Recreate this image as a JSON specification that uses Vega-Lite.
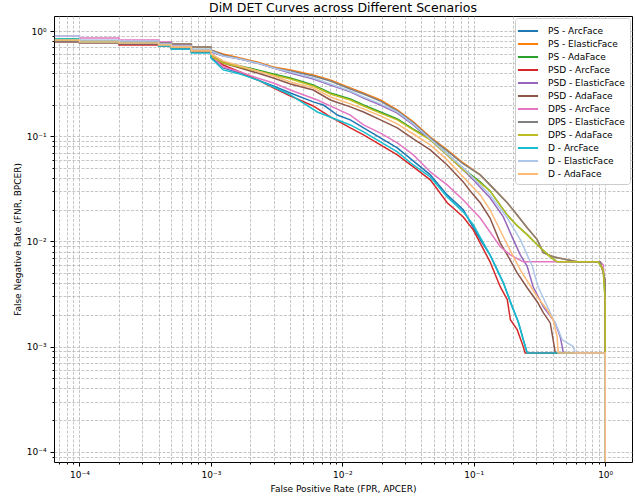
{
"$schema": "https://vega.github.io/schema/vega-lite/v6.json",
"width": 578, "height": 446,
"autosize": {"type": "none"},
"padding": {"left": 54, "top": 16, "right": 3, "bottom": 36},
"background": "white",
"config": {
  "font": "DejaVu Sans",
  "view": {"stroke": "black", "strokeWidth": 1},
  "title": {"fontSize": 12.5, "fontWeight": "normal", "color": "black", "offset": 2, "font": "DejaVu Sans"},
  "axis": {"labelFont": "DejaVu Sans", "titleFont": "DejaVu Sans", "labelFontSize": 9, "titleFontSize": 9, "titleFontWeight": "normal", "labelColor": "black", "titleColor": "black", "tickColor": "black", "domain": false, "gridColor": "#b0b0b0", "gridDash": [3, 1.5], "gridWidth": 0.8, "gridOpacity": 0.9, "labelFlush": false, "labelOverlap": false, "labelBound": false}
},
"title": "DiM DET Curves across Different Scenarios",
"data": {"values": [
{"s":"PS - ArcFace","x":6.5e-5,"y":0.804},{"s":"PS - ArcFace","x":1e-4,"y":0.804},{"s":"PS - ArcFace","x":1e-4,"y":0.786},{"s":"PS - ArcFace","x":2e-4,"y":0.786},{"s":"PS - ArcFace","x":2e-4,"y":0.753},{"s":"PS - ArcFace","x":4e-4,"y":0.753},{"s":"PS - ArcFace","x":4e-4,"y":0.721},{"s":"PS - ArcFace","x":5e-4,"y":0.721},{"s":"PS - ArcFace","x":5e-4,"y":0.675},{"s":"PS - ArcFace","x":7.1e-4,"y":0.675},{"s":"PS - ArcFace","x":7.1e-4,"y":0.632},{"s":"PS - ArcFace","x":1e-3,"y":0.632},{"s":"PS - ArcFace","x":1e-3,"y":0.567},{"s":"PS - ArcFace","x":1.24e-3,"y":0.446},{"s":"PS - ArcFace","x":1.67e-3,"y":0.399},{"s":"PS - ArcFace","x":2.26e-3,"y":0.343},{"s":"PS - ArcFace","x":2.99e-3,"y":0.300},{"s":"PS - ArcFace","x":4.03e-3,"y":0.258},{"s":"PS - ArcFace","x":6.01e-3,"y":0.212},{"s":"PS - ArcFace","x":7.17e-3,"y":0.198},{"s":"PS - ArcFace","x":8.11e-3,"y":0.178},{"s":"PS - ArcFace","x":9.16e-3,"y":0.159},{"s":"PS - ArcFace","x":0.0115,"y":0.143},{"s":"PS - ArcFace","x":0.0145,"y":0.120},{"s":"PS - ArcFace","x":0.0262,"y":0.0774},{"s":"PS - ArcFace","x":0.0467,"y":0.0429},{"s":"PS - ArcFace","x":0.0628,"y":0.0277},{"s":"PS - ArcFace","x":0.0832,"y":0.0200},{"s":"PS - ArcFace","x":0.112,"y":0.0104},{"s":"PS - ArcFace","x":0.133,"y":0.00746},{"s":"PS - ArcFace","x":0.168,"y":0.00404},{"s":"PS - ArcFace","x":0.196,"y":0.0024},{"s":"PS - ArcFace","x":0.218,"y":0.00172},{"s":"PS - ArcFace","x":0.255,"y":0.00087},{"s":"PS - ArcFace","x":1,"y":0.00087},{"s":"PS - ArcFace","x":1,"y":5e-5},
{"s":"PS - ElasticFace","x":6.5e-5,"y":0.804},{"s":"PS - ElasticFace","x":2e-4,"y":0.804},{"s":"PS - ElasticFace","x":2e-4,"y":0.786},{"s":"PS - ElasticFace","x":4e-4,"y":0.786},{"s":"PS - ElasticFace","x":4e-4,"y":0.769},{"s":"PS - ElasticFace","x":5e-4,"y":0.769},{"s":"PS - ElasticFace","x":5e-4,"y":0.753},{"s":"PS - ElasticFace","x":7.1e-4,"y":0.753},{"s":"PS - ElasticFace","x":7.1e-4,"y":0.705},{"s":"PS - ElasticFace","x":1e-3,"y":0.705},{"s":"PS - ElasticFace","x":1e-3,"y":0.661},{"s":"PS - ElasticFace","x":1.24e-3,"y":0.605},{"s":"PS - ElasticFace","x":1.67e-3,"y":0.555},{"s":"PS - ElasticFace","x":2.26e-3,"y":0.508},{"s":"PS - ElasticFace","x":2.99e-3,"y":0.455},{"s":"PS - ElasticFace","x":4.03e-3,"y":0.427},{"s":"PS - ElasticFace","x":6.01e-3,"y":0.382},{"s":"PS - ElasticFace","x":8.11e-3,"y":0.343},{"s":"PS - ElasticFace","x":0.0115,"y":0.288},{"s":"PS - ElasticFace","x":0.0145,"y":0.258},{"s":"PS - ElasticFace","x":0.0195,"y":0.221},{"s":"PS - ElasticFace","x":0.0262,"y":0.178},{"s":"PS - ElasticFace","x":0.0347,"y":0.137},{"s":"PS - ElasticFace","x":0.0467,"y":0.0984},{"s":"PS - ElasticFace","x":0.0628,"y":0.0741},{"s":"PS - ElasticFace","x":0.0832,"y":0.0557},{"s":"PS - ElasticFace","x":0.112,"y":0.0429},{"s":"PS - ElasticFace","x":0.133,"y":0.0345},{"s":"PS - ElasticFace","x":0.180,"y":0.0233},{"s":"PS - ElasticFace","x":0.214,"y":0.0178},{"s":"PS - ElasticFace","x":0.255,"y":0.0135},{"s":"PS - ElasticFace","x":0.304,"y":0.0104},{"s":"PS - ElasticFace","x":0.338,"y":0.0078},{"s":"PS - ElasticFace","x":0.402,"y":0.00714},{"s":"PS - ElasticFace","x":0.514,"y":0.00668},{"s":"PS - ElasticFace","x":0.612,"y":0.0064},{"s":"PS - ElasticFace","x":0.916,"y":0.0064},{"s":"PS - ElasticFace","x":1,"y":0.00432},{"s":"PS - ElasticFace","x":1,"y":5e-5},
{"s":"PS - AdaFace","x":6.5e-5,"y":0.839},{"s":"PS - AdaFace","x":1e-4,"y":0.839},{"s":"PS - AdaFace","x":1e-4,"y":0.804},{"s":"PS - AdaFace","x":2e-4,"y":0.804},{"s":"PS - AdaFace","x":2e-4,"y":0.769},{"s":"PS - AdaFace","x":4e-4,"y":0.769},{"s":"PS - AdaFace","x":4e-4,"y":0.736},{"s":"PS - AdaFace","x":5e-4,"y":0.736},{"s":"PS - AdaFace","x":5e-4,"y":0.705},{"s":"PS - AdaFace","x":7.1e-4,"y":0.705},{"s":"PS - AdaFace","x":7.1e-4,"y":0.661},{"s":"PS - AdaFace","x":1e-3,"y":0.661},{"s":"PS - AdaFace","x":1e-3,"y":0.592},{"s":"PS - AdaFace","x":1.24e-3,"y":0.508},{"s":"PS - AdaFace","x":1.67e-3,"y":0.465},{"s":"PS - AdaFace","x":2.26e-3,"y":0.427},{"s":"PS - AdaFace","x":2.99e-3,"y":0.391},{"s":"PS - AdaFace","x":4.03e-3,"y":0.358},{"s":"PS - AdaFace","x":6.01e-3,"y":0.307},{"s":"PS - AdaFace","x":8.11e-3,"y":0.258},{"s":"PS - AdaFace","x":0.0115,"y":0.226},{"s":"PS - AdaFace","x":0.0145,"y":0.198},{"s":"PS - AdaFace","x":0.0195,"y":0.170},{"s":"PS - AdaFace","x":0.0262,"y":0.146},{"s":"PS - AdaFace","x":0.0347,"y":0.117},{"s":"PS - AdaFace","x":0.0467,"y":0.0942},{"s":"PS - AdaFace","x":0.0628,"y":0.0679},{"s":"PS - AdaFace","x":0.0832,"y":0.0489},{"s":"PS - AdaFace","x":0.112,"y":0.0368},{"s":"PS - AdaFace","x":0.133,"y":0.0302},{"s":"PS - AdaFace","x":0.180,"y":0.0178},{"s":"PS - AdaFace","x":0.214,"y":0.0141},{"s":"PS - AdaFace","x":0.255,"y":0.0116},{"s":"PS - AdaFace","x":0.304,"y":0.0093},{"s":"PS - AdaFace","x":0.382,"y":0.00714},{"s":"PS - AdaFace","x":0.431,"y":0.0064},{"s":"PS - AdaFace","x":0.885,"y":0.0064},{"s":"PS - AdaFace","x":0.966,"y":0.00537},{"s":"PS - AdaFace","x":1,"y":0.00279},{"s":"PS - AdaFace","x":1,"y":5e-5},
{"s":"PSD - ArcFace","x":6.5e-5,"y":0.821},{"s":"PSD - ArcFace","x":1e-4,"y":0.821},{"s":"PSD - ArcFace","x":1e-4,"y":0.804},{"s":"PSD - ArcFace","x":2e-4,"y":0.804},{"s":"PSD - ArcFace","x":2e-4,"y":0.736},{"s":"PSD - ArcFace","x":5e-4,"y":0.736},{"s":"PSD - ArcFace","x":5e-4,"y":0.690},{"s":"PSD - ArcFace","x":7.1e-4,"y":0.690},{"s":"PSD - ArcFace","x":7.1e-4,"y":0.632},{"s":"PSD - ArcFace","x":1e-3,"y":0.632},{"s":"PSD - ArcFace","x":1e-3,"y":0.579},{"s":"PSD - ArcFace","x":1.24e-3,"y":0.475},{"s":"PSD - ArcFace","x":1.67e-3,"y":0.408},{"s":"PSD - ArcFace","x":2.26e-3,"y":0.343},{"s":"PSD - ArcFace","x":2.99e-3,"y":0.288},{"s":"PSD - ArcFace","x":4.03e-3,"y":0.241},{"s":"PSD - ArcFace","x":6.01e-3,"y":0.194},{"s":"PSD - ArcFace","x":8.11e-3,"y":0.153},{"s":"PSD - ArcFace","x":0.0115,"y":0.120},{"s":"PSD - ArcFace","x":0.0145,"y":0.103},{"s":"PSD - ArcFace","x":0.0195,"y":0.0826},{"s":"PSD - ArcFace","x":0.0262,"y":0.0665},{"s":"PSD - ArcFace","x":0.0347,"y":0.0511},{"s":"PSD - ArcFace","x":0.0467,"y":0.0385},{"s":"PSD - ArcFace","x":0.0628,"y":0.0233},{"s":"PSD - ArcFace","x":0.0832,"y":0.0171},{"s":"PSD - ArcFace","x":0.0991,"y":0.0129},{"s":"PSD - ArcFace","x":0.133,"y":0.0064},{"s":"PSD - ArcFace","x":0.159,"y":0.00371},{"s":"PSD - ArcFace","x":0.180,"y":0.00279},{"s":"PSD - ArcFace","x":0.190,"y":0.0018},{"s":"PSD - ArcFace","x":0.214,"y":0.00145},{"s":"PSD - ArcFace","x":0.238,"y":0.00100},{"s":"PSD - ArcFace","x":0.246,"y":0.00087},{"s":"PSD - ArcFace","x":1,"y":0.00087},{"s":"PSD - ArcFace","x":1,"y":5e-5},
{"s":"PSD - ElasticFace","x":6.5e-5,"y":0.821},{"s":"PSD - ElasticFace","x":1e-4,"y":0.821},{"s":"PSD - ElasticFace","x":1e-4,"y":0.786},{"s":"PSD - ElasticFace","x":2e-4,"y":0.786},{"s":"PSD - ElasticFace","x":2e-4,"y":0.753},{"s":"PSD - ElasticFace","x":5e-4,"y":0.753},{"s":"PSD - ElasticFace","x":5e-4,"y":0.721},{"s":"PSD - ElasticFace","x":7.1e-4,"y":0.721},{"s":"PSD - ElasticFace","x":7.1e-4,"y":0.661},{"s":"PSD - ElasticFace","x":1e-3,"y":0.661},{"s":"PSD - ElasticFace","x":1e-3,"y":0.632},{"s":"PSD - ElasticFace","x":1.24e-3,"y":0.579},{"s":"PSD - ElasticFace","x":1.67e-3,"y":0.543},{"s":"PSD - ElasticFace","x":2.26e-3,"y":0.497},{"s":"PSD - ElasticFace","x":2.99e-3,"y":0.446},{"s":"PSD - ElasticFace","x":4.03e-3,"y":0.399},{"s":"PSD - ElasticFace","x":6.01e-3,"y":0.350},{"s":"PSD - ElasticFace","x":8.11e-3,"y":0.307},{"s":"PSD - ElasticFace","x":0.0115,"y":0.264},{"s":"PSD - ElasticFace","x":0.0145,"y":0.231},{"s":"PSD - ElasticFace","x":0.0195,"y":0.198},{"s":"PSD - ElasticFace","x":0.0262,"y":0.166},{"s":"PSD - ElasticFace","x":0.0347,"y":0.128},{"s":"PSD - ElasticFace","x":0.0467,"y":0.0922},{"s":"PSD - ElasticFace","x":0.0628,"y":0.0665},{"s":"PSD - ElasticFace","x":0.0832,"y":0.0478},{"s":"PSD - ElasticFace","x":0.0991,"y":0.0385},{"s":"PSD - ElasticFace","x":0.133,"y":0.0260},{"s":"PSD - ElasticFace","x":0.168,"y":0.0171},{"s":"PSD - ElasticFace","x":0.200,"y":0.0104},{"s":"PSD - ElasticFace","x":0.226,"y":0.00746},{"s":"PSD - ElasticFace","x":0.255,"y":0.0058},{"s":"PSD - ElasticFace","x":0.283,"y":0.0037},{"s":"PSD - ElasticFace","x":0.338,"y":0.0024},{"s":"PSD - ElasticFace","x":0.417,"y":0.00168},{"s":"PSD - ElasticFace","x":0.455,"y":0.00124},{"s":"PSD - ElasticFace","x":0.471,"y":0.00100},{"s":"PSD - ElasticFace","x":0.480,"y":0.00087},{"s":"PSD - ElasticFace","x":1,"y":0.00087},{"s":"PSD - ElasticFace","x":1,"y":5e-5},
{"s":"PSD - AdaFace","x":6.5e-5,"y":0.786},{"s":"PSD - AdaFace","x":1e-4,"y":0.786},{"s":"PSD - AdaFace","x":1e-4,"y":0.769},{"s":"PSD - AdaFace","x":2e-4,"y":0.769},{"s":"PSD - AdaFace","x":2e-4,"y":0.753},{"s":"PSD - AdaFace","x":4e-4,"y":0.753},{"s":"PSD - AdaFace","x":4e-4,"y":0.721},{"s":"PSD - AdaFace","x":5e-4,"y":0.721},{"s":"PSD - AdaFace","x":5e-4,"y":0.690},{"s":"PSD - AdaFace","x":7.1e-4,"y":0.690},{"s":"PSD - AdaFace","x":7.1e-4,"y":0.632},{"s":"PSD - AdaFace","x":1e-3,"y":0.632},{"s":"PSD - AdaFace","x":1e-3,"y":0.592},{"s":"PSD - AdaFace","x":1.24e-3,"y":0.497},{"s":"PSD - AdaFace","x":1.67e-3,"y":0.446},{"s":"PSD - AdaFace","x":2.26e-3,"y":0.399},{"s":"PSD - AdaFace","x":2.99e-3,"y":0.358},{"s":"PSD - AdaFace","x":4.03e-3,"y":0.314},{"s":"PSD - AdaFace","x":6.01e-3,"y":0.275},{"s":"PSD - AdaFace","x":8.11e-3,"y":0.221},{"s":"PSD - AdaFace","x":0.0115,"y":0.190},{"s":"PSD - AdaFace","x":0.0145,"y":0.170},{"s":"PSD - AdaFace","x":0.0195,"y":0.143},{"s":"PSD - AdaFace","x":0.0262,"y":0.120},{"s":"PSD - AdaFace","x":0.0347,"y":0.0942},{"s":"PSD - AdaFace","x":0.0467,"y":0.0741},{"s":"PSD - AdaFace","x":0.0628,"y":0.0533},{"s":"PSD - AdaFace","x":0.0832,"y":0.0368},{"s":"PSD - AdaFace","x":0.094,"y":0.0302},{"s":"PSD - AdaFace","x":0.112,"y":0.0233},{"s":"PSD - AdaFace","x":0.133,"y":0.0167},{"s":"PSD - AdaFace","x":0.159,"y":0.0097},{"s":"PSD - AdaFace","x":0.180,"y":0.00746},{"s":"PSD - AdaFace","x":0.214,"y":0.00503},{"s":"PSD - AdaFace","x":0.255,"y":0.00363},{"s":"PSD - AdaFace","x":0.304,"y":0.00267},{"s":"PSD - AdaFace","x":0.338,"y":0.0021},{"s":"PSD - AdaFace","x":0.382,"y":0.00168},{"s":"PSD - AdaFace","x":0.402,"y":0.00116},{"s":"PSD - AdaFace","x":0.417,"y":0.00087},{"s":"PSD - AdaFace","x":1,"y":0.00087},{"s":"PSD - AdaFace","x":1,"y":5e-5},
{"s":"DPS - ArcFace","x":6.5e-5,"y":0.896},{"s":"DPS - ArcFace","x":1e-4,"y":0.896},{"s":"DPS - ArcFace","x":1e-4,"y":0.858},{"s":"DPS - ArcFace","x":2e-4,"y":0.858},{"s":"DPS - ArcFace","x":2e-4,"y":0.821},{"s":"DPS - ArcFace","x":4e-4,"y":0.821},{"s":"DPS - ArcFace","x":4e-4,"y":0.786},{"s":"DPS - ArcFace","x":5e-4,"y":0.786},{"s":"DPS - ArcFace","x":5e-4,"y":0.736},{"s":"DPS - ArcFace","x":7.1e-4,"y":0.736},{"s":"DPS - ArcFace","x":7.1e-4,"y":0.661},{"s":"DPS - ArcFace","x":1e-3,"y":0.661},{"s":"DPS - ArcFace","x":1e-3,"y":0.592},{"s":"DPS - ArcFace","x":1.24e-3,"y":0.455},{"s":"DPS - ArcFace","x":1.67e-3,"y":0.408},{"s":"DPS - ArcFace","x":2.26e-3,"y":0.358},{"s":"DPS - ArcFace","x":2.99e-3,"y":0.321},{"s":"DPS - ArcFace","x":4.03e-3,"y":0.275},{"s":"DPS - ArcFace","x":6.46e-3,"y":0.221},{"s":"DPS - ArcFace","x":0.0115,"y":0.159},{"s":"DPS - ArcFace","x":0.0145,"y":0.128},{"s":"DPS - ArcFace","x":0.0195,"y":0.107},{"s":"DPS - ArcFace","x":0.0262,"y":0.0863},{"s":"DPS - ArcFace","x":0.0347,"y":0.0665},{"s":"DPS - ArcFace","x":0.0467,"y":0.0458},{"s":"DPS - ArcFace","x":0.0628,"y":0.0345},{"s":"DPS - ArcFace","x":0.0832,"y":0.0248},{"s":"DPS - ArcFace","x":0.112,"y":0.0167},{"s":"DPS - ArcFace","x":0.133,"y":0.0123},{"s":"DPS - ArcFace","x":0.159,"y":0.0089},{"s":"DPS - ArcFace","x":0.190,"y":0.00746},{"s":"DPS - ArcFace","x":0.238,"y":0.0064},{"s":"DPS - ArcFace","x":0.916,"y":0.0064},{"s":"DPS - ArcFace","x":0.966,"y":0.0060},{"s":"DPS - ArcFace","x":1,"y":0.00347},{"s":"DPS - ArcFace","x":1,"y":5e-5},
{"s":"DPS - ElasticFace","x":6.5e-5,"y":0.804},{"s":"DPS - ElasticFace","x":2e-4,"y":0.804},{"s":"DPS - ElasticFace","x":2e-4,"y":0.786},{"s":"DPS - ElasticFace","x":4e-4,"y":0.786},{"s":"DPS - ElasticFace","x":4e-4,"y":0.769},{"s":"DPS - ElasticFace","x":5e-4,"y":0.769},{"s":"DPS - ElasticFace","x":5e-4,"y":0.753},{"s":"DPS - ElasticFace","x":7.1e-4,"y":0.753},{"s":"DPS - ElasticFace","x":7.1e-4,"y":0.705},{"s":"DPS - ElasticFace","x":1e-3,"y":0.705},{"s":"DPS - ElasticFace","x":1e-3,"y":0.661},{"s":"DPS - ElasticFace","x":1.24e-3,"y":0.592},{"s":"DPS - ElasticFace","x":1.67e-3,"y":0.543},{"s":"DPS - ElasticFace","x":2.26e-3,"y":0.497},{"s":"DPS - ElasticFace","x":2.99e-3,"y":0.446},{"s":"DPS - ElasticFace","x":4.03e-3,"y":0.417},{"s":"DPS - ElasticFace","x":6.01e-3,"y":0.374},{"s":"DPS - ElasticFace","x":8.11e-3,"y":0.335},{"s":"DPS - ElasticFace","x":0.0115,"y":0.281},{"s":"DPS - ElasticFace","x":0.0145,"y":0.252},{"s":"DPS - ElasticFace","x":0.0195,"y":0.216},{"s":"DPS - ElasticFace","x":0.0262,"y":0.174},{"s":"DPS - ElasticFace","x":0.0347,"y":0.134},{"s":"DPS - ElasticFace","x":0.0467,"y":0.0963},{"s":"DPS - ElasticFace","x":0.0628,"y":0.0725},{"s":"DPS - ElasticFace","x":0.0832,"y":0.0545},{"s":"DPS - ElasticFace","x":0.112,"y":0.0429},{"s":"DPS - ElasticFace","x":0.133,"y":0.0345},{"s":"DPS - ElasticFace","x":0.180,"y":0.0233},{"s":"DPS - ElasticFace","x":0.214,"y":0.0178},{"s":"DPS - ElasticFace","x":0.255,"y":0.0135},{"s":"DPS - ElasticFace","x":0.304,"y":0.0104},{"s":"DPS - ElasticFace","x":0.338,"y":0.0078},{"s":"DPS - ElasticFace","x":0.402,"y":0.00714},{"s":"DPS - ElasticFace","x":0.514,"y":0.00668},{"s":"DPS - ElasticFace","x":0.612,"y":0.0064},{"s":"DPS - ElasticFace","x":0.916,"y":0.0064},{"s":"DPS - ElasticFace","x":1,"y":0.00432},{"s":"DPS - ElasticFace","x":1,"y":5e-5},
{"s":"DPS - AdaFace","x":6.5e-5,"y":0.821},{"s":"DPS - AdaFace","x":1e-4,"y":0.821},{"s":"DPS - AdaFace","x":1e-4,"y":0.804},{"s":"DPS - AdaFace","x":2e-4,"y":0.804},{"s":"DPS - AdaFace","x":2e-4,"y":0.769},{"s":"DPS - AdaFace","x":4e-4,"y":0.769},{"s":"DPS - AdaFace","x":4e-4,"y":0.736},{"s":"DPS - AdaFace","x":5e-4,"y":0.736},{"s":"DPS - AdaFace","x":5e-4,"y":0.705},{"s":"DPS - AdaFace","x":7.1e-4,"y":0.705},{"s":"DPS - AdaFace","x":7.1e-4,"y":0.661},{"s":"DPS - AdaFace","x":1e-3,"y":0.661},{"s":"DPS - AdaFace","x":1e-3,"y":0.579},{"s":"DPS - AdaFace","x":1.24e-3,"y":0.497},{"s":"DPS - AdaFace","x":1.67e-3,"y":0.455},{"s":"DPS - AdaFace","x":2.26e-3,"y":0.417},{"s":"DPS - AdaFace","x":2.99e-3,"y":0.382},{"s":"DPS - AdaFace","x":4.03e-3,"y":0.350},{"s":"DPS - AdaFace","x":6.01e-3,"y":0.300},{"s":"DPS - AdaFace","x":8.11e-3,"y":0.252},{"s":"DPS - AdaFace","x":0.0115,"y":0.221},{"s":"DPS - AdaFace","x":0.0145,"y":0.194},{"s":"DPS - AdaFace","x":0.0195,"y":0.166},{"s":"DPS - AdaFace","x":0.0262,"y":0.143},{"s":"DPS - AdaFace","x":0.0347,"y":0.115},{"s":"DPS - AdaFace","x":0.0467,"y":0.0922},{"s":"DPS - AdaFace","x":0.0628,"y":0.0665},{"s":"DPS - AdaFace","x":0.0832,"y":0.0478},{"s":"DPS - AdaFace","x":0.112,"y":0.0360},{"s":"DPS - AdaFace","x":0.133,"y":0.0302},{"s":"DPS - AdaFace","x":0.180,"y":0.0178},{"s":"DPS - AdaFace","x":0.214,"y":0.0141},{"s":"DPS - AdaFace","x":0.255,"y":0.0116},{"s":"DPS - AdaFace","x":0.304,"y":0.0093},{"s":"DPS - AdaFace","x":0.382,"y":0.00714},{"s":"DPS - AdaFace","x":0.431,"y":0.0064},{"s":"DPS - AdaFace","x":0.885,"y":0.0064},{"s":"DPS - AdaFace","x":0.966,"y":0.00537},{"s":"DPS - AdaFace","x":1,"y":0.00279},{"s":"DPS - AdaFace","x":1,"y":5e-5},
{"s":"D - ArcFace","x":6.5e-5,"y":0.839},{"s":"D - ArcFace","x":1e-4,"y":0.839},{"s":"D - ArcFace","x":1e-4,"y":0.786},{"s":"D - ArcFace","x":2e-4,"y":0.786},{"s":"D - ArcFace","x":2e-4,"y":0.769},{"s":"D - ArcFace","x":4e-4,"y":0.769},{"s":"D - ArcFace","x":4e-4,"y":0.721},{"s":"D - ArcFace","x":5e-4,"y":0.721},{"s":"D - ArcFace","x":5e-4,"y":0.675},{"s":"D - ArcFace","x":7.1e-4,"y":0.675},{"s":"D - ArcFace","x":7.1e-4,"y":0.619},{"s":"D - ArcFace","x":1e-3,"y":0.619},{"s":"D - ArcFace","x":1e-3,"y":0.555},{"s":"D - ArcFace","x":1.24e-3,"y":0.427},{"s":"D - ArcFace","x":1.67e-3,"y":0.391},{"s":"D - ArcFace","x":2.26e-3,"y":0.343},{"s":"D - ArcFace","x":2.99e-3,"y":0.294},{"s":"D - ArcFace","x":4.03e-3,"y":0.247},{"s":"D - ArcFace","x":6.46e-3,"y":0.170},{"s":"D - ArcFace","x":0.0115,"y":0.128},{"s":"D - ArcFace","x":0.0145,"y":0.110},{"s":"D - ArcFace","x":0.0195,"y":0.0882},{"s":"D - ArcFace","x":0.0262,"y":0.0710},{"s":"D - ArcFace","x":0.0347,"y":0.0533},{"s":"D - ArcFace","x":0.0467,"y":0.0410},{"s":"D - ArcFace","x":0.0628,"y":0.0265},{"s":"D - ArcFace","x":0.0832,"y":0.0191},{"s":"D - ArcFace","x":0.0991,"y":0.0144},{"s":"D - ArcFace","x":0.133,"y":0.00746},{"s":"D - ArcFace","x":0.168,"y":0.00404},{"s":"D - ArcFace","x":0.196,"y":0.0024},{"s":"D - ArcFace","x":0.218,"y":0.00172},{"s":"D - ArcFace","x":0.238,"y":0.00116},{"s":"D - ArcFace","x":0.255,"y":0.00087},{"s":"D - ArcFace","x":1,"y":0.00087},{"s":"D - ArcFace","x":1,"y":5e-5},
{"s":"D - ElasticFace","x":6.5e-5,"y":0.896},{"s":"D - ElasticFace","x":1e-4,"y":0.896},{"s":"D - ElasticFace","x":1e-4,"y":0.821},{"s":"D - ElasticFace","x":2e-4,"y":0.821},{"s":"D - ElasticFace","x":2e-4,"y":0.804},{"s":"D - ElasticFace","x":4e-4,"y":0.804},{"s":"D - ElasticFace","x":4e-4,"y":0.753},{"s":"D - ElasticFace","x":5e-4,"y":0.753},{"s":"D - ElasticFace","x":5e-4,"y":0.721},{"s":"D - ElasticFace","x":7.1e-4,"y":0.721},{"s":"D - ElasticFace","x":7.1e-4,"y":0.675},{"s":"D - ElasticFace","x":1e-3,"y":0.675},{"s":"D - ElasticFace","x":1e-3,"y":0.646},{"s":"D - ElasticFace","x":1.24e-3,"y":0.579},{"s":"D - ElasticFace","x":1.67e-3,"y":0.543},{"s":"D - ElasticFace","x":2.26e-3,"y":0.497},{"s":"D - ElasticFace","x":2.99e-3,"y":0.446},{"s":"D - ElasticFace","x":4.03e-3,"y":0.408},{"s":"D - ElasticFace","x":6.01e-3,"y":0.358},{"s":"D - ElasticFace","x":8.11e-3,"y":0.314},{"s":"D - ElasticFace","x":0.0115,"y":0.269},{"s":"D - ElasticFace","x":0.0145,"y":0.236},{"s":"D - ElasticFace","x":0.0195,"y":0.203},{"s":"D - ElasticFace","x":0.0262,"y":0.170},{"s":"D - ElasticFace","x":0.0347,"y":0.131},{"s":"D - ElasticFace","x":0.0467,"y":0.0942},{"s":"D - ElasticFace","x":0.0628,"y":0.0679},{"s":"D - ElasticFace","x":0.0832,"y":0.0500},{"s":"D - ElasticFace","x":0.0991,"y":0.0401},{"s":"D - ElasticFace","x":0.133,"y":0.0277},{"s":"D - ElasticFace","x":0.180,"y":0.0167},{"s":"D - ElasticFace","x":0.226,"y":0.0104},{"s":"D - ElasticFace","x":0.279,"y":0.0058},{"s":"D - ElasticFace","x":0.309,"y":0.0037},{"s":"D - ElasticFace","x":0.382,"y":0.0021},{"s":"D - ElasticFace","x":0.439,"y":0.00145},{"s":"D - ElasticFace","x":0.471,"y":0.00116},{"s":"D - ElasticFace","x":0.571,"y":0.00100},{"s":"D - ElasticFace","x":0.592,"y":0.00087},{"s":"D - ElasticFace","x":1,"y":0.00087},{"s":"D - ElasticFace","x":1,"y":5e-5},
{"s":"D - AdaFace","x":6.5e-5,"y":0.821},{"s":"D - AdaFace","x":1e-4,"y":0.821},{"s":"D - AdaFace","x":1e-4,"y":0.786},{"s":"D - AdaFace","x":2e-4,"y":0.786},{"s":"D - AdaFace","x":2e-4,"y":0.769},{"s":"D - AdaFace","x":4e-4,"y":0.769},{"s":"D - AdaFace","x":4e-4,"y":0.736},{"s":"D - AdaFace","x":5e-4,"y":0.736},{"s":"D - AdaFace","x":5e-4,"y":0.705},{"s":"D - AdaFace","x":7.1e-4,"y":0.705},{"s":"D - AdaFace","x":7.1e-4,"y":0.646},{"s":"D - AdaFace","x":1e-3,"y":0.646},{"s":"D - AdaFace","x":1e-3,"y":0.605},{"s":"D - AdaFace","x":1.24e-3,"y":0.519},{"s":"D - AdaFace","x":1.67e-3,"y":0.465},{"s":"D - AdaFace","x":2.26e-3,"y":0.417},{"s":"D - AdaFace","x":2.99e-3,"y":0.374},{"s":"D - AdaFace","x":4.03e-3,"y":0.328},{"s":"D - AdaFace","x":6.01e-3,"y":0.288},{"s":"D - AdaFace","x":8.11e-3,"y":0.236},{"s":"D - AdaFace","x":0.0115,"y":0.203},{"s":"D - AdaFace","x":0.0145,"y":0.182},{"s":"D - AdaFace","x":0.0195,"y":0.156},{"s":"D - AdaFace","x":0.0262,"y":0.131},{"s":"D - AdaFace","x":0.0347,"y":0.105},{"s":"D - AdaFace","x":0.0467,"y":0.0826},{"s":"D - AdaFace","x":0.0628,"y":0.0596},{"s":"D - AdaFace","x":0.0832,"y":0.0410},{"s":"D - AdaFace","x":0.112,"y":0.0277},{"s":"D - AdaFace","x":0.133,"y":0.0200},{"s":"D - AdaFace","x":0.180,"y":0.0093},{"s":"D - AdaFace","x":0.226,"y":0.00537},{"s":"D - AdaFace","x":0.304,"y":0.00298},{"s":"D - AdaFace","x":0.362,"y":0.00224},{"s":"D - AdaFace","x":0.402,"y":0.0018},{"s":"D - AdaFace","x":0.431,"y":0.00124},{"s":"D - AdaFace","x":0.439,"y":0.00087},{"s":"D - AdaFace","x":1,"y":0.00087},{"s":"D - AdaFace","x":1,"y":5e-5}
]},
"mark": {"type": "line", "strokeWidth": 1.5, "clip": true},
"encoding": {
  "x": {"field": "x", "type": "quantitative",
    "scale": {"type": "log", "domain": [6.4e-5, 1.6], "nice": false},
    "axis": {"title": "False Positive Rate (FPR, APCER)", "titlePadding": 5, "labelPadding": 4,
      "values": [7e-5,8e-5,9e-5,1e-4,2e-4,3e-4,4e-4,5e-4,6e-4,7e-4,8e-4,9e-4,1e-3,2e-3,3e-3,4e-3,5e-3,6e-3,7e-3,8e-3,9e-3,0.01,0.02,0.03,0.04,0.05,0.06,0.07,0.08,0.09,0.1,0.2,0.3,0.4,0.5,0.6,0.7,0.8,0.9,1],
      "labelExpr": "datum.value==0.0001?'10⁻⁴':datum.value==0.001?'10⁻³':datum.value==0.01?'10⁻²':datum.value==0.1?'10⁻¹':datum.value==1?'10⁰':''",
      "tickSize": {"condition": {"test": "indexof([0.0001,0.001,0.01,0.1,1], datum.value) >= 0", "value": 4}, "value": 2}}},
  "y": {"field": "y", "type": "quantitative",
    "scale": {"type": "log", "domain": [8.0e-5, 1.39], "nice": false},
    "axis": {"title": "False Negative Rate (FNR, BPCER)", "titlePadding": 4, "labelPadding": 4,
      "values": [9e-5,1e-4,2e-4,3e-4,4e-4,5e-4,6e-4,7e-4,8e-4,9e-4,1e-3,2e-3,3e-3,4e-3,5e-3,6e-3,7e-3,8e-3,9e-3,0.01,0.02,0.03,0.04,0.05,0.06,0.07,0.08,0.09,0.1,0.2,0.3,0.4,0.5,0.6,0.7,0.8,0.9,1],
      "labelExpr": "datum.value==0.0001?'10⁻⁴':datum.value==0.001?'10⁻³':datum.value==0.01?'10⁻²':datum.value==0.1?'10⁻¹':datum.value==1?'10⁰':''",
      "tickSize": {"condition": {"test": "indexof([0.0001,0.001,0.01,0.1,1], datum.value) >= 0", "value": 4}, "value": 2}}},
  "color": {"field": "s", "type": "nominal",
    "scale": {"domain": ["PS - ArcFace","PS - ElasticFace","PS - AdaFace","PSD - ArcFace","PSD - ElasticFace","PSD - AdaFace","DPS - ArcFace","DPS - ElasticFace","DPS - AdaFace","D - ArcFace","D - ElasticFace","D - AdaFace"],
      "range": ["#1f77b4","#ff7f0e","#2ca02c","#d62728","#9467bd","#8c564b","#e377c2","#7f7f7f","#bcbd22","#17becf","#aec7e8","#ffbb78"]},
    "legend": {"title": null, "orient": "top-right", "offset": 2, "padding": 5, "fillColor": "white", "strokeColor": "#cccccc", "cornerRadius": 3,
      "symbolType": "M-1.5,0H1.5", "symbolSize": 180, "symbolStrokeWidth": 2, "labelFontSize": 9, "labelFont": "DejaVu Sans", "labelColor": "black", "rowPadding": 0, "labelOffset": 12}}
},
"order": {"value": null}
}
